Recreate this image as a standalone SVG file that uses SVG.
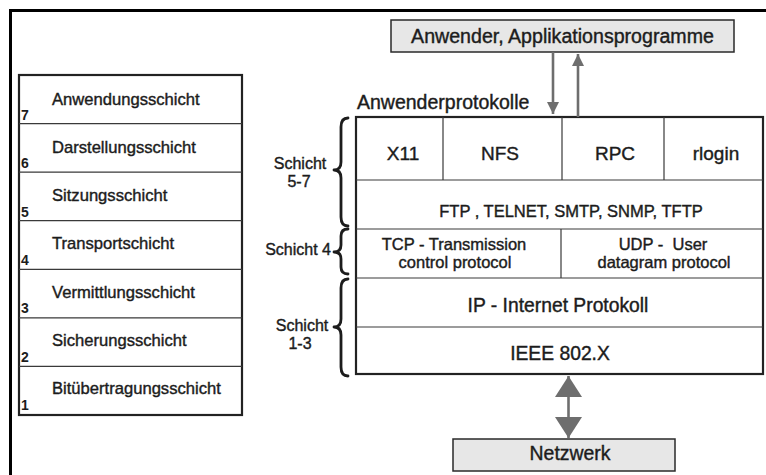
<svg xmlns="http://www.w3.org/2000/svg" width="766" height="475" viewBox="0 0 766 475">
  <style>
    text { font-family: "Liberation Sans", Arial, sans-serif; fill: #1c1c1c; stroke: #1c1c1c; stroke-width: 0.4; }
    .lbl { font-size: 16.6px; }
    .num { font-size: 14px; font-weight: bold; stroke-width: 0; }
    .cell { font-size: 19px; text-anchor: middle; }
    .small { font-size: 16.5px; text-anchor: middle; }
    .big { font-size: 19.3px; text-anchor: middle; }
    .side { font-size: 16px; }
    .frame { fill: none; stroke: #000; stroke-width: 3; }
    .outer { fill: #fff; stroke: #222; stroke-width: 2.2; }
    .div { stroke: #3a3a3a; stroke-width: 1.2; fill: none; }
    .gbox { fill: #e7e7e7; stroke: #2a2a2a; stroke-width: 1.5; }
    .brace { fill: none; stroke: #1c1c1c; stroke-width: 2.8; stroke-linejoin: round; stroke-linecap: round; }
    .arr { stroke: #6e6e6e; stroke-width: 2.6; fill: none; }
  </style>
  <defs>
    <marker id="head" markerUnits="userSpaceOnUse" markerWidth="14" markerHeight="14" viewBox="0 0 14 14" refX="12" refY="7" orient="auto">
      <path d="M0,1 L12,7 L0,13 Z" fill="#6e6e6e"/>
    </marker>
    <marker id="bighead" markerUnits="userSpaceOnUse" markerWidth="22" markerHeight="28" viewBox="0 0 22 28" refX="21" refY="14" orient="auto-start-reverse">
      <path d="M0,0.5 L21,14 L0,27.5 Z" fill="#6e6e6e"/>
    </marker>
  </defs>

  <rect width="766" height="475" fill="#fff"/>

  <!-- page frame (top and left edges only) -->
  <path class="frame" d="M10.5,475 L10.5,10.5 L766,10.5"/>

  <!-- OSI reference model -->
  <g id="osi">
    <rect class="outer" x="19" y="75" width="223" height="340"/>
    <path class="div" d="M19,123.6 H242 M19,172.1 H242 M19,220.7 H242 M19,269.3 H242 M19,317.9 H242 M19,366.4 H242"/>
    <g id="osi7"><text class="lbl" x="52" y="105">Anwendungsschicht</text><text class="num" x="21" y="120">7</text></g>
    <g id="osi6"><text class="lbl" x="52" y="153">Darstellungsschicht</text><text class="num" x="21" y="168">6</text></g>
    <g id="osi5"><text class="lbl" x="52" y="201">Sitzungsschicht</text><text class="num" x="21" y="217">5</text></g>
    <g id="osi4"><text class="lbl" x="52" y="249">Transportschicht</text><text class="num" x="21" y="265">4</text></g>
    <g id="osi3"><text class="lbl" x="52" y="298">Vermittlungsschicht</text><text class="num" x="21" y="313">3</text></g>
    <g id="osi2"><text class="lbl" x="52" y="346">Sicherungsschicht</text><text class="num" x="21" y="362">2</text></g>
    <g id="osi1"><text class="lbl" x="52" y="394">Bitübertragungsschicht</text><text class="num" x="21" y="410">1</text></g>
  </g>

  <!-- application box -->
  <g id="apps">
    <rect class="gbox" x="391" y="20" width="343" height="32"/>
    <text class="cell" x="562.5" y="43" style="font-size:19.6px">Anwender, Applikationsprogramme</text>
  </g>

  <!-- TCP/IP stack -->
  <g id="stack">
    <text class="side" x="357" y="109" style="font-size:19.5px">Anwenderprotokolle</text>
    <rect class="outer" x="356" y="117" width="407" height="257"/>
    <path class="div" d="M356,180 H763 M356,229 H763 M356,278 H763 M356,327 H763 M443,117 V180 M562,117 V180 M664,117 V180 M561,229 V278"/>
    <g id="x11"><text class="cell" x="403" y="160">X11</text></g>
    <g id="nfs"><text class="cell" x="500" y="160">NFS</text></g>
    <g id="rpc"><text class="cell" x="615" y="160">RPC</text></g>
    <g id="rlogin"><text class="cell" x="716" y="160">rlogin</text></g>
    <g id="ftp"><text class="small" x="571" y="217">FTP , TELNET, SMTP, SNMP, TFTP</text></g>
    <g id="tcp"><text class="small" x="454" y="250">TCP - Transmission</text><text class="small" x="455" y="268">control protocol</text></g>
    <g id="udp"><text class="small" x="663" y="250" style="white-space:pre">UDP -  User</text><text class="small" x="664" y="268">datagram protocol</text></g>
    <g id="ip"><text class="big" x="558" y="312">IP - Internet Protokoll</text></g>
    <g id="ieee"><text class="big" x="560" y="360">IEEE 802.X</text></g>
  </g>

  <!-- layer brackets -->
  <g id="layers57">
    <path class="brace" d="M348,118 Q341,118 341,127 L341,162 Q341,170 334,170 Q341,170 341,178 L341,217 Q341,226 348,226"/>
    <text class="side" x="300" y="169" text-anchor="middle">Schicht</text>
    <text class="side" x="299" y="187" text-anchor="middle">5-7</text>
  </g>
  <g id="layer4">
    <path class="brace" d="M348,229 Q341,229 341,236 L341,245 Q341,252 334,252 Q341,252 341,259 L341,267 Q341,274 348,274"/>
    <text class="side" x="331" y="255" text-anchor="end">Schicht 4</text>
  </g>
  <g id="layers13">
    <path class="brace" d="M348,279 Q341,279 341,288 L341,319 Q341,327 334,327 Q341,327 341,335 L341,367 Q341,376 348,376"/>
    <text class="side" x="302" y="331" text-anchor="middle">Schicht</text>
    <text class="side" x="300" y="349" text-anchor="middle">1-3</text>
  </g>

  <!-- network box -->
  <g id="net">
    <rect class="gbox" x="453" y="439" width="222" height="32"/>
    <text class="cell" x="570" y="460" style="font-size:19.4px">Netzwerk</text>
  </g>

  <!-- connectors -->
  <g id="connectors">
    <line class="arr" x1="553" y1="52" x2="553" y2="114" marker-end="url(#head)"/>
    <line class="arr" x1="578" y1="117" x2="578" y2="54" marker-end="url(#head)"/>
    <line class="arr" x1="568.5" y1="376" x2="568.5" y2="438" stroke-width="6" marker-start="url(#bighead)" marker-end="url(#bighead)"/>
  </g>
</svg>
